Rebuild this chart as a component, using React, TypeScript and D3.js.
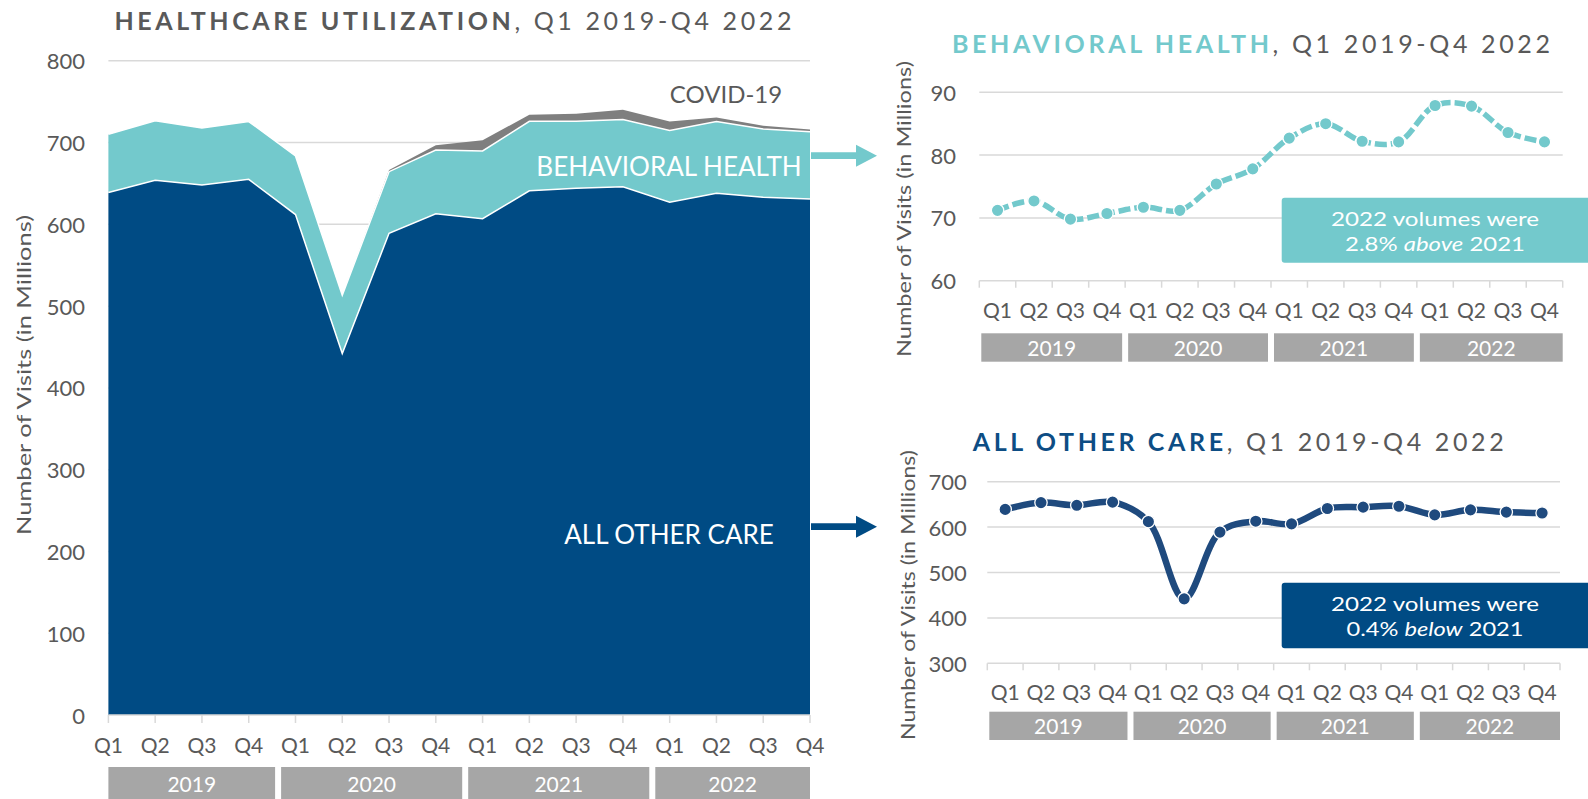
import React from 'react';
import * as d3 from 'd3';

// quarters / years
const quarters = ['Q1', 'Q2', 'Q3', 'Q4', 'Q1', 'Q2', 'Q3', 'Q4', 'Q1', 'Q2', 'Q3', 'Q4', 'Q1', 'Q2', 'Q3', 'Q4'];
const years = ['2019', '2020', '2021', '2022'];

// visits in millions
const allOtherCare = [639, 654, 648, 655, 612, 442, 589, 613, 607, 641, 644, 646, 627, 638, 633, 631];
const behavioralHealth = [71.2, 72.7, 69.8, 70.7, 71.7, 71.2, 75.4, 77.8, 82.7, 85.0, 82.2, 82.1, 87.9, 87.8, 83.6, 82.1];
const covid19 = [0, 0, 0, 0, 0, 0, 2, 6, 13, 8, 9, 12, 11, 5, 4, 3];

const mainTicks = [0, 100, 200, 300, 400, 500, 600, 700, 800];
const bhTicks = [60, 70, 80, 90];
const otherTicks = [300, 400, 500, 600, 700];

const NAVY = '#004b84';
const NAVY_LINE = '#1f4a7e';
const TEAL = '#73c9cc';
const GREY = '#7f7f7f';
const TEXT = '#595959';
const GRID = '#d9d9d9';
const BOX = '#a6a6a6';
const FONT = 'Lato, "Open Sans", sans-serif';

const W = 1588;
const H = 799;

const idx = d3.range(quarters.length);

function YearBoxes({ edges, y0, y1 }) {
  return (
    <g>
      {years.map((yr, i) => (
        <g key={yr}>
          <rect x={edges[i][0]} y={y0} width={edges[i][1] - edges[i][0]} height={y1 - y0} fill={BOX} />
          <text x={(edges[i][0] + edges[i][1]) / 2} y={(y0 + y1) / 2} fill="#fff" fontSize={21}
            textAnchor="middle" dominantBaseline="central">{yr}</text>
        </g>
      ))}
    </g>
  );
}

function Title({ x, y, len, bold, boldColor, size }) {
  return (
    <text x={x} y={y} fontSize={size} dominantBaseline="central" textLength={len} lengthAdjust="spacing">
      <tspan fill={boldColor} fontWeight="bold">{bold}</tspan>
      <tspan fill={TEXT}>, Q1 2019-Q4 2022</tspan>
    </text>
  );
}

function YLabel({ x, y, len, size }) {
  return (
    <text transform={`translate(${x},${y}) rotate(-90)`} fill={TEXT} fontSize={size} textAnchor="middle"
      dominantBaseline="central" textLength={len} lengthAdjust="spacingAndGlyphs">
      Number of Visits (in Millions)
    </text>
  );
}

function MainChart() {
  const x = d3.scalePoint().domain(idx).range([108.4, 810]);
  const y = d3.scaleLinear().domain([0, 800]).range([715, 60.8]);

  const rows = idx.map(i => ({ other: allOtherCare[i], bh: behavioralHealth[i], covid: covid19[i] }));
  const series = d3.stack().keys(['other', 'bh', 'covid'])(rows);
  const area = d3.area().x((d, i) => x(i)).y0(d => y(d[0])).y1(d => y(d[1]));
  const topLine = d3.line().x((d, i) => x(i)).y(d => y(d[1]));
  const colors = [NAVY, TEAL, GREY];

  // year boxes split between Q4 and the next Q1
  const step = x.step();
  const edges = years.map((_, k) => {
    const a = k === 0 ? x(0) : x(k * 4) - step / 2 + 9;
    const b = k === 3 ? x(15) : x(k * 4 + 3) + step / 2 + 3;
    return [a, b];
  });

  return (
    <g>
      {mainTicks.filter(t => t > 0).map(t => (
        <line key={t} x1={x(0)} x2={x(15)} y1={y(t)} y2={y(t)} stroke={GRID} strokeWidth={1.5} />
      ))}
      {series.map((s, k) => (
        <path key={s.key} d={area(s)} fill={colors[k]} />
      ))}
      {series.slice(0, 2).map(s => (
        <path key={s.key + '-l'} d={topLine(s)} fill="none" stroke="#fff" strokeWidth={1.5} />
      ))}
      <line x1={x(0)} x2={x(15)} y1={y(0)} y2={y(0)} stroke={GRID} strokeWidth={1.5} />
      {idx.map(i => (
        <line key={i} x1={x(i)} x2={x(i)} y1={y(0)} y2={y(0) + 8} stroke={GRID} strokeWidth={1.5} />
      ))}
      {mainTicks.map(t => (
        <text key={t} x={85} y={y(t)} fill={TEXT} fontSize={22} textAnchor="end" dominantBaseline="central">{t}</text>
      ))}
      {idx.map(i => (
        <text key={i} x={x(i)} y={744} fill={TEXT} fontSize={21} textAnchor="middle" dominantBaseline="central">{quarters[i]}</text>
      ))}
      <YearBoxes edges={edges} y0={767} y1={800} />
      <YLabel x={23} y={375} len={320} size={20} />
      <Title x={114.5} y={20} len={677} size={25} bold="HEALTHCARE UTILIZATION" boldColor={TEXT} />

      <text x={726} y={93} fill={TEXT} fontSize={24} textAnchor="middle" dominantBaseline="central">COVID-19</text>
      <text x={669} y={165.7} fill="#fff" fontSize={26} textAnchor="middle" dominantBaseline="central">BEHAVIORAL HEALTH</text>
      <text x={669} y={533.7} fill="#fff" fontSize={26} textAnchor="middle" dominantBaseline="central">ALL OTHER CARE</text>
    </g>
  );
}

function Arrow({ y, color }) {
  const pts = [
    [811, y - 3.4], [856, y - 3.4], [856, y - 11], [877, y],
    [856, y + 11], [856, y + 3.4], [811, y + 3.4],
  ];
  return <polygon points={pts.map(p => p.join(',')).join(' ')} fill={color} />;
}

function SmallChart({ values, ticks, xRange, yRange, tickRight, tickSize, qY, boxY, color, lineColor, dashed,
  title, titleX, titleY, titleLen, titleColor, label, callout }) {
  const x = d3.scaleBand().domain(idx).range(xRange);
  const y = d3.scaleLinear().domain([ticks[0], ticks[ticks.length - 1]]).range(yRange);
  const cx = i => x(i) + x.bandwidth() / 2;
  const line = d3.line().x((d, i) => cx(i)).y(d => y(d)).curve(d3.curveCatmullRom.alpha(0.5));
  const bw = x.bandwidth();
  const edges = years.map((_, k) => [x(k * 4) + (k === 0 ? 2 : 3), x(k * 4) + 4 * bw - (k === 3 ? 0 : 3)]);
  const base = y(ticks[0]);

  return (
    <g>
      {ticks.slice(1).map(t => (
        <line key={t} x1={xRange[0]} x2={xRange[1]} y1={y(t)} y2={y(t)} stroke={GRID} strokeWidth={1.5} />
      ))}
      <line x1={xRange[0]} x2={xRange[1]} y1={base} y2={base} stroke={GRID} strokeWidth={1.5} />
      {d3.range(17).map(i => (
        <line key={i} x1={xRange[0] + i * bw} x2={xRange[0] + i * bw} y1={base} y2={base + 7} stroke={GRID} strokeWidth={1.5} />
      ))}
      {ticks.map(t => (
        <text key={t} x={tickRight} y={y(t)} fill={TEXT} fontSize={tickSize} textAnchor="end" dominantBaseline="central">{t}</text>
      ))}
      {idx.map(i => (
        <text key={i} x={cx(i)} y={qY} fill={TEXT} fontSize={21} textAnchor="middle" dominantBaseline="central">{quarters[i]}</text>
      ))}
      <YearBoxes edges={edges} y0={boxY[0]} y1={boxY[1]} />

      <rect x={1281.7} y={callout.y0} width={W - 1281.7 + 4} height={callout.y1 - callout.y0} rx={3} fill={color} />
      <text x={1435} y={callout.l1} fill="#fff" fontSize={20} textAnchor="middle" dominantBaseline="central"
        textLength={208} lengthAdjust="spacingAndGlyphs">2022 volumes were</text>
      <text x={1435} y={callout.l2} fill="#fff" fontSize={20} textAnchor="middle" dominantBaseline="central"
        textLength={callout.len2} lengthAdjust="spacingAndGlyphs">
        {callout.pct} <tspan fontStyle="italic">{callout.word}</tspan> 2021
      </text>

      <path d={line(values)} fill="none" stroke={lineColor} strokeWidth={dashed ? 5.5 : 6.5}
        strokeDasharray={dashed ? '12,4' : null} strokeLinejoin="round" />
      {values.map((v, i) => (
        <circle key={i} cx={cx(i)} cy={y(v)} r={6.2} fill={lineColor} stroke="#fff" strokeWidth={1.3} />
      ))}

      <YLabel x={label.x} y={label.y} len={label.len} size={20} />
      <Title x={titleX} y={titleY} len={titleLen} size={25} bold={title} boldColor={titleColor} />
    </g>
  );
}

export default function App() {
  return (
    <svg width={W} height={H} style={{ position: 'absolute', left: 0, top: 0, background: '#fff' }}
      fontFamily={FONT}>
      <rect width={W} height={H} fill="#fff" />
      <MainChart />
      <Arrow y={155.7} color={TEAL} />
      <Arrow y={526.7} color={NAVY} />
      <SmallChart
        values={behavioralHealth} ticks={bhTicks} xRange={[979.3, 1562.7]} yRange={[280.7, 92.3]}
        tickRight={956} tickSize={22} qY={309} boxY={[333.3, 361.7]} color={TEAL} lineColor={TEAL} dashed
        title="BEHAVIORAL HEALTH" titleX={952} titleY={42.5} titleLen={598} titleColor={TEAL}
        label={{ x: 903.3, y: 209, len: 296 }}
        callout={{ y0: 197.7, y1: 262.7, l1: 217.5, l2: 242.5, pct: '2.8%', word: 'above', len2: 180 }}
      />
      <SmallChart
        values={allOtherCare} ticks={otherTicks} xRange={[987.3, 1560]} yRange={[663.3, 481.7]}
        tickRight={966.7} tickSize={22} qY={691.7} boxY={[711.7, 740]} color={NAVY} lineColor={NAVY_LINE}
        title="ALL OTHER CARE" titleX={972.7} titleY={440.7} titleLen={531} titleColor="#0d4d84"
        label={{ x: 906.7, y: 595, len: 290 }}
        callout={{ y0: 582.7, y1: 648.3, l1: 603, l2: 628, pct: '0.4%', word: 'below', len2: 177 }}
      />
    </svg>
  );
}
